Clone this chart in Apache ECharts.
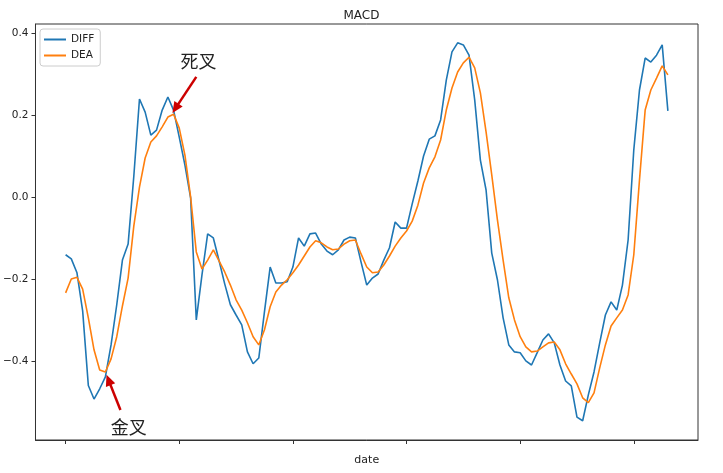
<!DOCTYPE html>
<html><head><meta charset="utf-8">
<script src="https://cdn.jsdelivr.net/npm/echarts@6/dist/echarts.min.js"></script>
<style>html,body{margin:0;padding:0;background:#fff}#c{width:723px;height:473px}</style>
</head><body><div id="c"></div>
<script>
// day index step between samples
const STEP = 2;
const diff = [-0.141,-0.151,-0.185,-0.278,-0.46,-0.493,-0.468,-0.439,-0.361,-0.263,
-0.154,-0.115,0.05,0.239,0.207,0.151,0.163,0.212,0.244,0.212,
0.146,0.078,-0.002,-0.30,-0.19,-0.09,-0.1,-0.155,-0.212,-0.263,
-0.288,-0.312,-0.378,-0.407,-0.393,-0.28,-0.171,-0.21,-0.21,-0.207,
-0.171,-0.1,-0.12,-0.09,-0.088,-0.115,-0.132,-0.141,-0.129,-0.105,
-0.098,-0.1,-0.159,-0.215,-0.198,-0.188,-0.154,-0.124,-0.061,-0.076,
-0.076,-0.017,0.039,0.1,0.141,0.149,0.188,0.285,0.354,0.376,
0.371,0.346,0.237,0.09,0.017,-0.137,-0.202,-0.295,-0.361,-0.378,
-0.38,-0.4,-0.41,-0.38,-0.349,-0.334,-0.356,-0.41,-0.449,-0.461,
-0.537,-0.546,-0.483,-0.427,-0.356,-0.288,-0.256,-0.276,-0.215,-0.105,
0.115,0.261,0.339,0.329,0.346,0.371,0.21];
const dea = [-0.234,-0.2,-0.196,-0.225,-0.295,-0.373,-0.422,-0.427,-0.395,-0.341,
-0.266,-0.198,-0.071,0.024,0.095,0.134,0.149,0.171,0.195,0.202,
0.168,0.102,0.0,-0.134,-0.176,-0.154,-0.129,-0.156,-0.183,-0.215,
-0.251,-0.276,-0.307,-0.341,-0.361,-0.324,-0.268,-0.232,-0.215,-0.202,
-0.185,-0.166,-0.144,-0.122,-0.107,-0.112,-0.122,-0.129,-0.127,-0.115,
-0.107,-0.105,-0.139,-0.171,-0.185,-0.183,-0.166,-0.144,-0.12,-0.1,
-0.083,-0.059,-0.02,0.034,0.071,0.098,0.139,0.212,0.266,0.305,
0.327,0.341,0.315,0.254,0.159,0.054,-0.056,-0.154,-0.246,-0.3,
-0.341,-0.366,-0.378,-0.376,-0.366,-0.356,-0.354,-0.373,-0.407,-0.432,
-0.456,-0.49,-0.502,-0.478,-0.417,-0.361,-0.315,-0.295,-0.276,-0.239,
-0.141,0.041,0.212,0.261,0.29,0.32,0.298];
const xTicks = [0,40,80,120,160,200];
const yTicks = [-0.4,-0.2,0.0,0.2,0.4];
// annotations in data coords
const annotations = [
  {text:'死叉', tip:[37.6,0.205], tail:[46,0.293], label:[46.8,0.332]},
  {text:'金叉', tip:[14.4,-0.434], tail:[19.3,-0.52], label:[22.2,-0.561]}
];

const n = diff.length;
const xMax = (n-1)*STEP;
const pad = xMax*0.05;
const diffData = diff.map((v,i)=>[i*STEP,v]);
const deaData = dea.map((v,i)=>[i*STEP,v]);
const font = 'DejaVu Sans';
const chart = echarts.init(document.getElementById('c'));
chart.setOption({
  animation:false,
  backgroundColor:'#fff',
  title:{text:'MACD', left:'center', top:5, textStyle:{fontFamily:font, fontSize:12, fontWeight:'normal', color:'#222'}},
  grid:{left:35, right:25, top:24, bottom:33, show:true, borderColor:'#333', borderWidth:1},
  legend:{orient:'vertical', left:40, top:29, padding:[5,6,5,4], itemGap:5, itemWidth:22, itemHeight:2,
    icon:'rect', borderColor:'#ccc', borderWidth:1, borderRadius:3, backgroundColor:'#fff',
    textStyle:{fontFamily:font, fontSize:10.5, color:'#222'}, data:['DIFF','DEA']},
  xAxis:{type:'value', min:-pad, max:xMax+pad,
    name:'date', nameLocation:'middle', nameGap:15, nameTextStyle:{fontFamily:font, fontSize:11, color:'#222'},
    axisLine:{show:true, onZero:false, lineStyle:{color:'#333'}},
    axisTick:{show:true, length:4, customValues:xTicks, lineStyle:{color:'#333'}},
    axisLabel:{show:false}, splitLine:{show:false}},
  yAxis:{type:'value', min:-0.593, max:0.422,
    axisLine:{show:true, onZero:false, lineStyle:{color:'#333'}},
    axisTick:{show:true, length:4, customValues:yTicks, lineStyle:{color:'#333'}},
    axisLabel:{customValues:yTicks, fontFamily:font, fontSize:10.5, color:'#222', margin:7,
      formatter:v=>v.toFixed(1).replace('-','\u2212')},
    splitLine:{show:false}},
  series:[
    {name:'DIFF', type:'line', data:diffData, showSymbol:false, color:'#1f77b4', lineStyle:{width:1.6}},
    {name:'DEA', type:'line', data:deaData, showSymbol:false, color:'#ff7f0e', lineStyle:{width:1.6}}
  ]
});
const g = [];
annotations.forEach(a=>{
  const t = chart.convertToPixel({gridIndex:0}, a.tip);
  const s = chart.convertToPixel({gridIndex:0}, a.tail);
  const l = chart.convertToPixel({gridIndex:0}, a.label);
  const dx = t[0]-s[0], dy = t[1]-s[1], len = Math.hypot(dx,dy);
  const ux = dx/len, uy = dy/len, hl = 11, hw = 5;
  const bx = t[0]-ux*hl, by = t[1]-uy*hl;
  g.push({type:'line', shape:{x1:s[0], y1:s[1], x2:bx+ux*2, y2:by+uy*2}, style:{stroke:'#cc0000', lineWidth:2.5}, z:10});
  g.push({type:'polygon', shape:{points:[[t[0],t[1]],[bx-uy*hw,by+ux*hw],[bx+uy*hw,by-ux*hw]]}, style:{fill:'#cc0000'}, z:10});
  g.push({type:'text', x:l[0], y:l[1], style:{text:a.text, fontFamily:'Noto Sans CJK SC', fontSize:18, fill:'#222', align:'center', verticalAlign:'middle'}, z:10});
});
chart.setOption({graphic:g});
</script></body></html>
